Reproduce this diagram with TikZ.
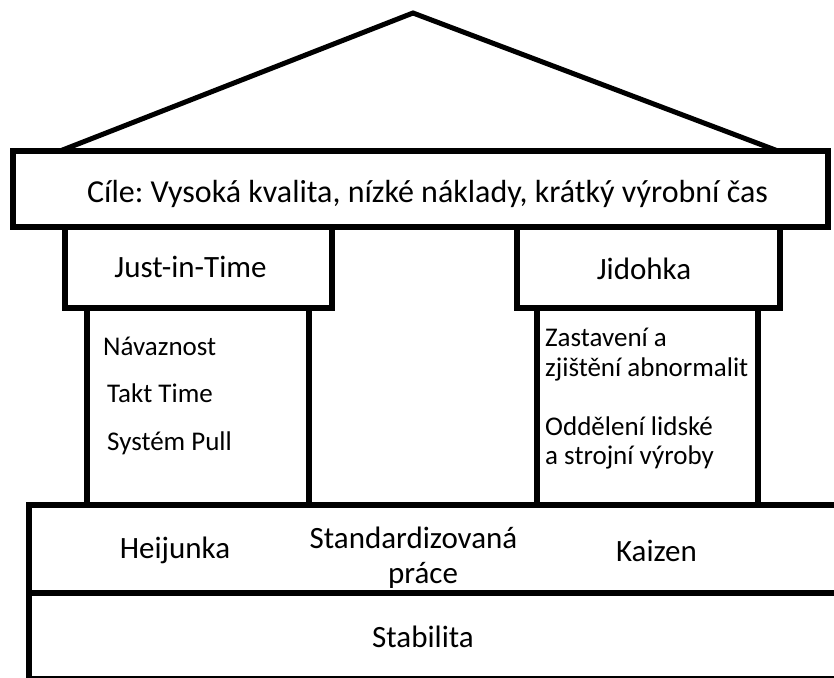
\documentclass[tikz,border=0pt]{standalone}
\usepackage{fontspec}
\setmainfont{Carlito}
\frenchspacing
\tikzset{
  block/.style={draw=black, line width=6pt, anchor=north west, inner sep=0pt, outer sep=0pt},
  roofline/.style={draw=black, line width=5pt, line join=miter},
  lbl/.style={inner sep=0pt, text=black, anchor=base},
  goalfont/.style={lbl, font=\fontsize{32}{36}\selectfont},
  big/.style={lbl, font=\fontsize{31}{36}\selectfont},
  small/.style={lbl, anchor=base west, font=\fontsize{27}{30}\selectfont},
}
\begin{document}
\begin{tikzpicture}[x=1pt, y=-1pt]
  \useasboundingbox (0,0) rectangle (834,677);
  \clip (0,0) rectangle (834,677);

  % roof
  \coordinate (eaveL) at (60,151);
  \coordinate (apex) at (413,13);
  \coordinate (eaveR) at (778,151);
  \draw[roofline] (eaveL) -- (apex) -- (eaveR);

  % goals beam
  \node[block, minimum width=815pt, minimum height=76pt] (goals) at (13,151) {};
  \node[goalfont] (goalsT) at (427.5,202) {Cíle: Vysoká kvalita, nízké náklady, krátký výrobní čas};

  % left pillar: Just-in-Time
  \node[block, minimum width=267pt, minimum height=81pt] (jitHead) at (65,227) {};
  \node[block, minimum width=222pt, minimum height=197pt] (jitCol) at (87,308) {};
  \node[big] (jitT) at (190.5,277) {Just-in-Time};
  \node[small] (jit1) at (103,355) {Návaznost};
  \node[small] (jit2) at (107,402) {Takt Time};
  \node[small] (jit3) at (107,450) {Systém Pull};

  % right pillar: Jidohka
  \node[block, minimum width=263pt, minimum height=81pt] (jidHead) at (517,227) {};
  \node[block, minimum width=221pt, minimum height=197pt] (jidCol) at (537,308) {};
  \node[big] (jidT) at (644,279) {Jidohka};
  \node[small] (jid1a) at (545,346) {Zastavení a};
  \node[small] (jid1b) at (545,376) {zjištění abnormalit};
  \node[small] (jid2a) at (545,435) {Oddělení lidské};
  \node[small] (jid2b) at (545,464) {a strojní výroby};

  % foundation bands
  \node[block, minimum width=830pt, minimum height=88pt] (methods) at (29,505) {};
  \node[block, minimum width=830pt, minimum height=86pt] (stab) at (29,593) {};
  \node[big] (heij) at (175,558) {Heijunka};
  \node[big] (stdA) at (413.5,548) {Standardizovaná};
  \node[big] (stdB) at (423,583) {práce};
  \node[big] (kaiz) at (656.5,561) {Kaizen};
  \node[big] (stabT) at (423,647) {Stabilita};
\end{tikzpicture}
\end{document}
